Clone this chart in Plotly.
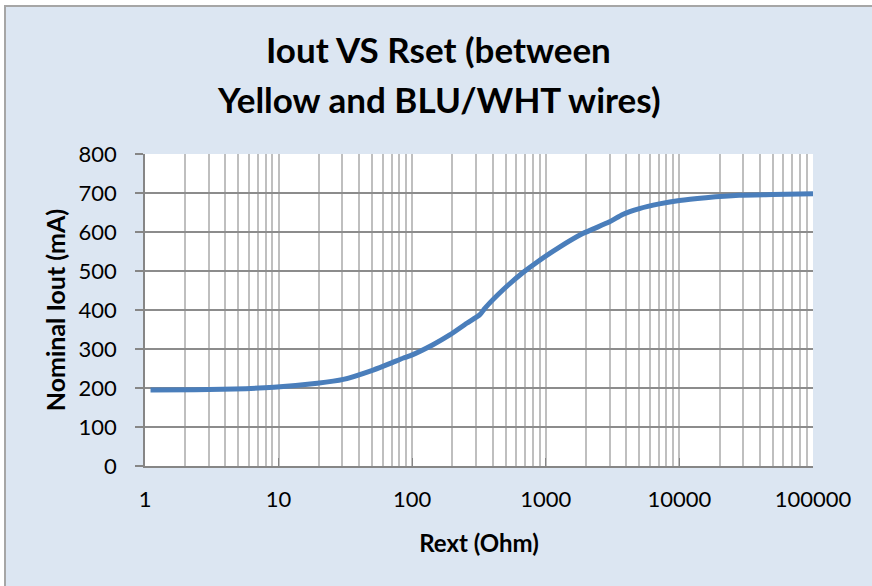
import plotly.graph_objects as go

# Data
rext_ohm = [1.1, 3, 9.2, 19.5, 30.5, 51, 68.5, 86, 97, 143, 191, 256, 321,
            351, 479, 675, 853, 1250, 1890, 3000, 3760, 5020, 7070, 10000,
            15800, 28000, 49600, 100000]
iout_ma = [195, 196, 202, 212, 222, 246, 263, 277, 283, 311, 336, 366, 388,
           405, 452, 496, 522, 560, 596, 626, 645, 660, 672, 681, 688, 694,
           696, 698]

x_tick_vals = [1, 10, 100, 1000, 10000, 100000]
x_tick_text = ["1", "10", "100", "1000", "10000", "100000"]
y_tick_vals = [0, 100, 200, 300, 400, 500, 600, 700, 800]

title_line1 = "Iout VS Rset (between"
title_line2 = "Yellow and BLU/WHT wires)"
x_title = "Rext (Ohm)"
y_title = "Nominal Iout (mA)"

FONT = "Lato"
BG = "#DCE6F2"

fig = go.Figure()
fig.add_trace(go.Scatter(
    x=rext_ohm, y=iout_ma, mode="lines",
    line=dict(color="#4A7EBB", width=5, shape="spline", smoothing=0.6),
    showlegend=False, hoverinfo="x+y",
))

fig.update_layout(
    width=872, height=586,
    margin=dict(l=145, r=59, t=154, b=120),
    paper_bgcolor=BG, plot_bgcolor="white",
    font=dict(family=FONT, size=22, color="black"),
    showlegend=False,
)

fig.update_xaxes(
    type="log", range=[0, 5],
    tickvals=x_tick_vals, ticktext=x_tick_text,
    ticks="inside", ticklen=8, tickcolor="#868686", tickwidth=1,
    showline=True, linecolor="#868686", linewidth=1.5,
    showgrid=True, gridcolor="#BFBFBF", gridwidth=1.5,
    minor=dict(dtick="D1", showgrid=True, gridcolor="#BFBFBF", gridwidth=1.5, ticks=""),
    ticklabelstandoff=13,
    tickfont=dict(family=FONT, size=22),
    title=dict(text="<b>" + x_title + "</b>", font=dict(family=FONT, size=24), standoff=24),
    zeroline=False,
)

fig.update_yaxes(
    range=[0, 800], tickvals=y_tick_vals,
    ticks="outside", ticklen=8, tickcolor="#868686", tickwidth=1.5,
    showline=True, linecolor="#868686", linewidth=1.5,
    showgrid=True, gridcolor="#8C8C8C", gridwidth=1.5,
    ticklabelstandoff=14,
    tickfont=dict(family=FONT, size=22),
    title=dict(text="<b>" + y_title + "</b>", font=dict(family=FONT, size=25), standoff=6),
    zeroline=False,
)

# Title as two centered lines
fig.add_annotation(text="<b>" + title_line1 + "</b>", xref="paper", yref="paper",
                   x=0.44, y=(466 - 49) / 312, xanchor="center", yanchor="middle",
                   showarrow=False, font=dict(family=FONT, size=35, color="black"))
fig.add_annotation(text="<b>" + title_line2 + "</b>", xref="paper", yref="paper",
                   x=0.44, y=(466 - 99) / 312, xanchor="center", yanchor="middle",
                   showarrow=False, font=dict(family=FONT, size=35, color="black"))

# Chart frame: white strip at top/left and gray border
left_px, top_px = 5, 6
px_to_x = lambda p: (p - 145) / 668
px_to_y = lambda p: (466 - p) / 312
fig.add_shape(type="rect", xref="paper", yref="paper",
              x0=px_to_x(-5), x1=px_to_x(left_px), y0=px_to_y(600), y1=px_to_y(-5),
              fillcolor="white", line=dict(width=0), layer="below")
fig.add_shape(type="rect", xref="paper", yref="paper",
              x0=px_to_x(-5), x1=px_to_x(880), y0=px_to_y(top_px), y1=px_to_y(-5),
              fillcolor="white", line=dict(width=0), layer="below")
fig.add_shape(type="rect", xref="paper", yref="paper",
              x0=px_to_x(left_px), x1=px_to_x(890), y0=px_to_y(600), y1=px_to_y(top_px),
              fillcolor="rgba(0,0,0,0)", line=dict(color="#A6A6A6", width=2), layer="below")

fig.write_html("out.html", config={"displayModeBar": False},
               post_script="document.body.style.margin='0';")
